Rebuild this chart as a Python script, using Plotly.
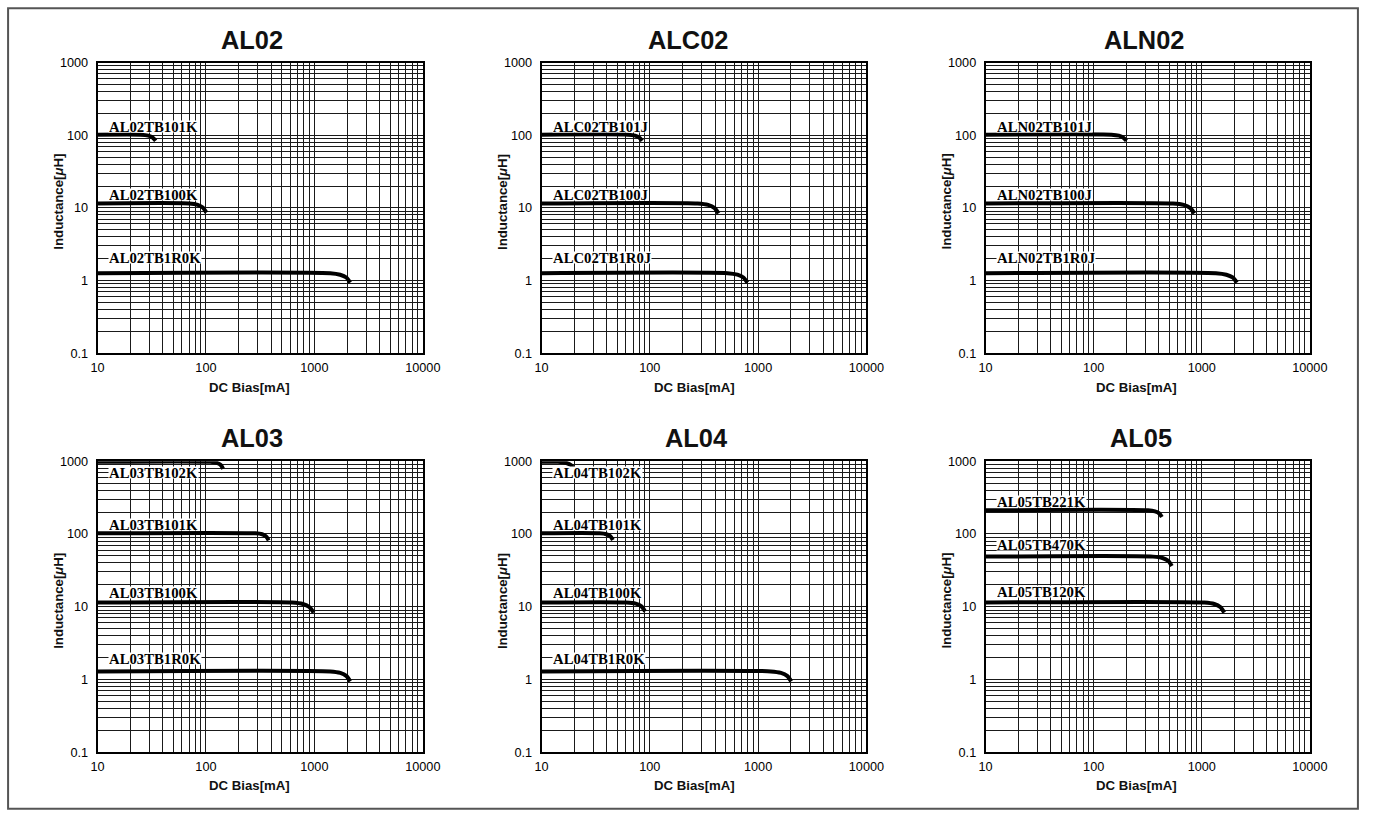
import math
import plotly.graph_objects as go

W, H = 1377, 817

# ---------------- data ----------------
panel_titles = ["AL02", "ALC02", "ALN02", "AL03", "AL04", "AL05"]

al02_names = ["AL02TB101K", "AL02TB100K", "AL02TB1R0K"]
al02_x = [[10, 25, 29.4, 32.3, 34.4], [10, 70, 84, 93.5, 101], [10, 1400, 1730, 1970, 2140]]
al02_y = [[102, 102, 99, 93, 84], [11.5, 11.5, 11.0, 10.1, 8.6], [1.26, 1.26, 1.20, 1.10, 0.935]]

alc02_names = ["ALC02TB101J", "ALC02TB100J", "ALC02TB1R0J"]
alc02_x = [[10, 63, 73, 80, 85], [10, 276, 345, 394, 431], [10, 521, 644, 731, 796]]
alc02_y = [[102, 102, 99, 93, 84], [11.5, 11.5, 11.0, 10.0, 8.4], [1.26, 1.26, 1.20, 1.10, 0.935]]

aln02_names = ["ALN02TB101J", "ALN02TB100J", "ALN02TB1R0J"]
aln02_x = [[10, 146, 171, 188, 201], [10, 541, 680, 780, 855], [10, 1352, 1690, 1932, 2114]]
aln02_y = [[102, 102, 99, 93, 84], [11.5, 11.5, 11.0, 10.0, 8.4], [1.26, 1.26, 1.20, 1.10, 0.935]]

al03_names = ["AL03TB102K", "AL03TB101K", "AL03TB100K", "AL03TB1R0K"]
al03_x = [[10, 110, 126, 137, 144], [10, 286, 330, 359, 379], [10, 622, 783, 898, 985],
          [10, 1402, 1734, 1968, 2143]]
al03_y = [[981, 981, 950, 889, 787], [102, 102, 99, 92.5, 81.7], [11.4, 11.4, 10.9, 9.9, 8.3],
          [1.29, 1.29, 1.23, 1.12, 0.94]]

al04_names = ["AL04TB102K", "AL04TB101K", "AL04TB100K", "AL04TB1R0K"]
al04_x = [[10, 14.2, 17.0, 18.8, 20.2], [10, 34.4, 39.6, 43.2, 45.6], [10, 60.5, 74, 83.6, 90.5],
          [10, 1309, 1626, 1854, 2023]]
al04_y = [[981, 981, 946, 879, 769], [102, 102, 99, 93, 82.4], [11.4, 11.4, 11.0, 10.1, 8.6],
          [1.29, 1.29, 1.23, 1.12, 0.94]]

al05_names = ["AL05TB221K", "AL05TB470K", "AL05TB120K"]
al05_x = [[10, 318, 369, 404, 428], [10, 354, 433, 489, 529], [10, 1057, 1306, 1483, 1615]]
al05_y = [[211, 211, 204, 192, 171], [48.8, 48.8, 46.7, 42.7, 36.2], [11.4, 11.4, 10.9, 9.9, 8.3]]

x_tick_vals = [10, 100, 1000, 10000]
x_tick_text = ["10", "100", "1000", "10000"]
y_tick_vals = [0.1, 1, 10, 100, 1000]
y_tick_text = ["0.1", "1", "10", "100", "1000"]

x_title = "DC Bias[mA]"
y_title = "Inductance[<i>μ</i>H]"

# ---------------- layout helpers (target pixel positions) ----------------
# the photographed page is shrunk slightly and offset; compensate
SX, OX = 0.984, 6.0
SY, OY = 0.985, 6.5


def fx(p):
    return (p - OX) / SX / W


def fy(p):
    return 1 - (p - OY) / SY / H


def sz(v):
    return v / SX


col_l = [96.7, 541.7, 986.7]
col_r = [422.7, 867.3, 1311.7]
row_t = [62.3, 461.7]
row_b = [353.3, 753.3]

title_px = [252, 688, 1145, 252, 697, 1142]
title_py = [40, 438.5]
ytitle_px = [58, 503.3, 947.7]
ytitle_py = [201.7, 601.7]
xtitle_px = [249, 695, 1138]
xtitle_py = [388.3, 786.7]

label_dy = [
    [8.3, 9.3, 15],
    [8.3, 9.3, 15],
    [8.3, 9.3, 15],
    [-10.4, 9, 10, 12.3],
    [-10.4, 9, 10, 12.3],
    [8.3, 11.6, 11],
]

panels = [
    (al02_names, al02_x, al02_y),
    (alc02_names, alc02_x, alc02_y),
    (aln02_names, aln02_x, aln02_y),
    (al03_names, al03_x, al03_y),
    (al04_names, al04_x, al04_y),
    (al05_names, al05_x, al05_y),
]

minor_x = [m * 10 ** e for e in range(1, 4) for m in range(2, 10)]
minor_y = [m * 10.0 ** e for e in range(-1, 3) for m in range(2, 10)]

GRID = "#1a1a1a"
SANS = "Liberation Sans, Arial, sans-serif"
SERIF = "Liberation Serif, Times New Roman, serif"

fig = go.Figure()
layout = dict(
    width=W, height=H,
    margin=dict(l=0, r=0, t=0, b=0),
    paper_bgcolor="white", plot_bgcolor="white",
    showlegend=False,
    font=dict(family=SANS, size=12, color="black"),
)
annotations = []
ids = ["", "2", "3", "4", "5", "6"]

for i, (names, xs, ys) in enumerate(panels):
    r, c = divmod(i, 3)
    sid = ids[i]
    xa, ya = "xaxis" + sid, "yaxis" + sid
    axis_common = dict(
        showgrid=True, gridcolor=GRID, gridwidth=1.15,
        showline=True, mirror=True, linecolor="black", linewidth=1.6,
        ticks="",
        tickfont=dict(family=SANS, size=sz(12.5), color="black"),
        fixedrange=True,
    )
    layout[xa] = dict(
        type="log", range=[1, 4],
        domain=[fx(col_l[c]), fx(col_r[c])],
        anchor="y" + sid,
        tickmode="array", tickvals=x_tick_vals, ticktext=x_tick_text,
        minor=dict(tickmode="array", tickvals=minor_x, showgrid=True, gridcolor=GRID, gridwidth=1.15, ticks=""),
        ticklabelstandoff=2,
        **axis_common,
    )
    layout[ya] = dict(
        type="log", range=[-1, 3],
        domain=[fy(row_b[r]), fy(row_t[r])],
        anchor="x" + sid,
        tickmode="array", tickvals=y_tick_vals, ticktext=y_tick_text,
        minor=dict(tickmode="array", tickvals=minor_y, showgrid=True, gridcolor=GRID, gridwidth=1.15, ticks=""),
        ticklabelstandoff=5,
        **axis_common,
    )
    for k, (nm, xv, yv) in enumerate(zip(names, xs, ys)):
        fig.add_trace(go.Scatter(
            x=xv, y=yv, mode="lines", name=nm,
            xaxis="x" + sid, yaxis="y" + sid,
            line=dict(color="black", width=4, shape="spline", smoothing=0.7),
            hoverinfo="skip", cliponaxis=False,
        ))
        annotations.append(dict(
            x=math.log10(xv[0]), y=math.log10(yv[0]), xref="x" + sid, yref="y" + sid,
            text="<b>" + nm + "</b>", showarrow=False,
            xanchor="left", yanchor="middle", xshift=sz(10), yshift=sz(label_dy[i][k]),
            bgcolor="white", borderpad=0, height=sz(11),
            font=dict(family=SERIF, size=sz(14.5), color="black"),
        ))
    annotations.append(dict(
        x=fx(title_px[i]), y=fy(title_py[r]), xref="paper", yref="paper",
        text="<b>" + panel_titles[i] + "</b>", showarrow=False,
        xanchor="center", yanchor="middle",
        font=dict(family=SANS, size=sz(25), color="#111"),
    ))
    annotations.append(dict(
        x=fx(ytitle_px[c]), y=fy(ytitle_py[r]), xref="paper", yref="paper",
        text="<b>" + y_title + "</b>", showarrow=False, textangle=-90,
        xanchor="center", yanchor="middle",
        font=dict(family=SANS, size=sz(13), color="#111"),
    ))
    annotations.append(dict(
        x=fx(xtitle_px[c]), y=fy(xtitle_py[r]), xref="paper", yref="paper",
        text="<b>" + x_title + "</b>", showarrow=False,
        xanchor="center", yanchor="middle",
        font=dict(family=SANS, size=sz(13), color="#111"),
    ))

layout["annotations"] = annotations
layout["shapes"] = [dict(
    type="rect", xref="paper", yref="paper",
    x0=max(fx(6), 0.0008), x1=min(fx(1372), 0.9992), y0=max(fy(815), 0.0015), y1=min(fy(2), 0.9985),
    line=dict(color="#555", width=2), fillcolor="rgba(0,0,0,0)", layer="below",
)]
fig.update_layout(**layout)
fig.write_html(
    "out.html",
    config={"displayModeBar": False},
    post_script="document.body.style.margin='0';document.body.style.padding='0';document.body.style.overflow='hidden';",
)
